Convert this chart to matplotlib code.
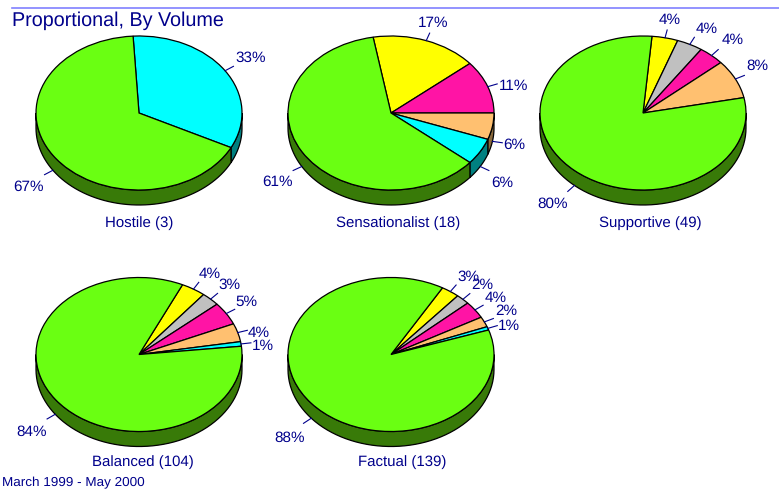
import matplotlib
matplotlib.use('Agg')
import matplotlib.pyplot as plt
import numpy as np

W, H = 779, 490
RX, RY, DEPTH = 103, 77, 15

names = ['Hostile (3)', 'Sensationalist (18)', 'Supportive (49)', 'Balanced (104)', 'Factual (139)']
# slice counts, in clockwise order from the start angle
hostile = [1, 2]
sensational = [3, 2, 1, 1, 11]
supportive = [2, 2, 2, 4, 39]
balanced = [4, 3, 5, 4, 1, 87]
factual = [4, 3, 5, 3, 1, 123]
# labels as printed on the chart
hostile_labels = ['33%', '67%']
sensational_labels = ['17%', '11%', '6%', '6%', '61%']
supportive_labels = ['4%', '4%', '4%', '8%', '80%']
balanced_labels = ['4%', '3%', '5%', '4%', '1%', '84%']
factual_labels = ['3%', '2%', '4%', '2%', '1%', '88%']

# hand nudges for the percent labels, in pixels (right, down)
hostile_nudge = [(3, -3), (-2, 7)]
sensational_nudge = [(-4, -2), (1, 5), (0, 1), (2, 8), (-1, 7)]
supportive_nudge = [(-3, -1), (5, 0), (5, -3), (1, -5), (-4, 6)]
balanced_nudge = [(3, -1), (2, -2), (1, -3), (-1, 5), (0, 4), (-2, 8)]
factual_nudge = [(4, -1), (3, -2), (2, -2), (1, -4), (0, 3), (-1, 9)]

GREEN = '#6aff12'
CYAN = '#00ffff'
YELLOW = '#ffff00'
GREY = '#c0c0c0'
MAGENTA = '#ff14a5'
ORANGE = '#ffc070'
NAVY = '#00008b'
DARK = {GREEN: '#387a08', CYAN: '#008080', ORANGE: '#8a6a3c', MAGENTA: '#8a0a58',
        YELLOW: '#808000', GREY: '#666666'}

plt.rcParams['font.family'] = ['Liberation Sans', 'DejaVu Sans']
plt.rcParams['text.hinting'] = 'no_hinting'

fig = plt.figure(figsize=(W / 100, H / 100), dpi=100)
fig.patch.set_facecolor('white')


def draw_pie(cx, cy, values, labels, nudges, colors, start, name, name_x, name_y):
    # axes box covers exactly the ellipse, so data units are radii
    ax = fig.add_axes([(cx - RX) / W, 1 - (cy + RY) / H, 2 * RX / W, 2 * RY / H])
    ax.set_axis_off()

    fracs = np.array(values) / sum(values)
    edges = start - np.concatenate([[0], np.cumsum(fracs)]) * 360
    d = DEPTH / RY

    # side wall first, only the front half shows
    for i in range(len(values)):
        a1, a2 = edges[i + 1], edges[i]
        for k in [-1, 0]:
            lo = max(a1, 180 + 360 * k)
            hi = min(a2, 360 + 360 * k)
            if hi <= lo:
                continue
            t = np.radians(np.linspace(lo, hi, 60))
            xs = np.concatenate([np.cos(t), np.cos(t[::-1])])
            ys = np.concatenate([np.sin(t), np.sin(t[::-1]) - d])
            ax.fill(xs, ys, facecolor=DARK[colors[i]], edgecolor='black', lw=0.9, clip_on=False, zorder=1)

    ax.pie(values, colors=colors, startangle=start, counterclock=False, radius=1,
           wedgeprops=dict(edgecolor='black', linewidth=0.9, zorder=2))
    for p in ax.patches:
        p.set_clip_on(False)
    ax.set_aspect('auto')
    ax.set_xlim(-1, 1)
    ax.set_ylim(-1, 1)

    # leader lines and labels
    for i, lab in enumerate(labels):
        mid = np.radians((edges[i] + edges[i + 1]) / 2)
        ux, uy = np.cos(mid), np.sin(mid)
        wall = d if uy < 0 else 0
        x0, y0 = ux, uy - wall
        x1, y1 = x0 + ux * 10 / RX, y0 + uy * 8 / RY
        ax.plot([x0, x1], [y0, y1], color=NAVY, lw=0.8, clip_on=False, zorder=3)
        tw = 13 if len(lab) == 3 else 9.5
        tx = x1 + (ux * tw + 3 * np.sign(ux) + nudges[i][0]) / RX
        ty = y1 + (uy * 9 - nudges[i][1]) / RY
        ax.text(tx, ty, lab, color=NAVY, fontsize=11, ha='center', va='center',
                clip_on=False, zorder=4)

    fig.text(name_x / W, 1 - name_y / H, name, color=NAVY, fontsize=10.8, ha='center', va='center')


draw_pie(139, 113, hostile, hostile_labels, hostile_nudge, [CYAN, GREEN], 93.3, names[0], 139, 223.5)
draw_pie(391, 113, sensational, sensational_labels, sensational_nudge,
         [YELLOW, MAGENTA, ORANGE, CYAN, GREEN], 100, names[1], 398, 223.5)
draw_pie(643, 113, supportive, supportive_labels, supportive_nudge,
         [YELLOW, GREY, MAGENTA, ORANGE, GREEN], 85, names[2], 650, 223.5)
draw_pie(139, 354.5, balanced, balanced_labels, balanced_nudge,
         [YELLOW, GREY, MAGENTA, ORANGE, CYAN, GREEN], 65, names[3], 143, 462.5)
draw_pie(391, 354.5, factual, factual_labels, factual_nudge,
         [YELLOW, GREY, MAGENTA, ORANGE, CYAN, GREEN], 60, names[4], 402, 462.5)

# header rule and titles
fig.add_artist(plt.Line2D([12 / W, 1], [1 - 8 / H, 1 - 8 / H], color='#8080ff', lw=1.2))
fig.text(12 / W, 1 - 21 / H, 'Proportional, By Volume', color=NAVY, fontsize=14.2, ha='left', va='center')
fig.text(2 / W, 1 - 482.5 / H, 'March 1999 - May 2000', color=NAVY, fontsize=9.7, ha='left', va='center')

fig.savefig('out.png', dpi=100)
